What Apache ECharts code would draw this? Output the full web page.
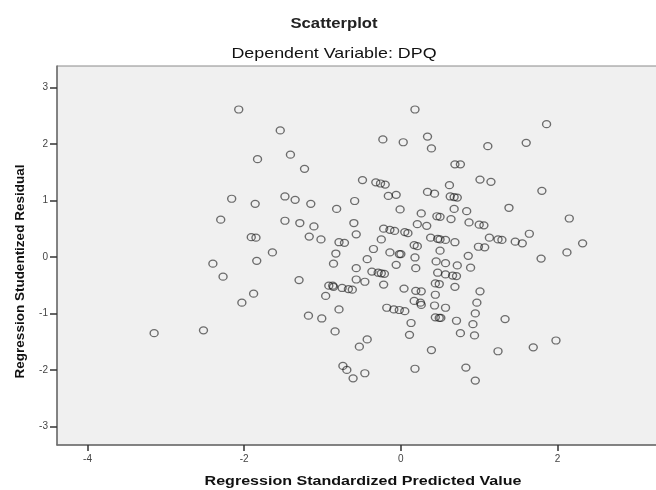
<!DOCTYPE html>
<html>
<head>
<meta charset="utf-8">
<title>Scatterplot</title>
<script src="https://cdn.jsdelivr.net/npm/echarts@6/dist/echarts.min.js"></script>
<style>
  html, body { margin: 0; padding: 0; background: #fff; }
  #chart { width: 656px; height: 490px; }
</style>
</head>
<body>
<div id="chart"></div>
<script>
// x: Regression Standardized Predicted Value
const predicted = [
  -2.07, -1.54, -1.83, -1.41, -1.23, -2.16, -1.86, -1.48, -1.35, -1.15, -0.82, -0.59,
  -2.30, -1.48, -1.29, -1.11, -0.60, -0.57, -1.91, -1.85, -1.17, -1.02, -0.79, -0.72,
  0.18, 1.86, -0.23, 0.03, 0.34, 0.39, 1.11, 1.60, 0.69, 0.76, -0.49, -0.32,
  -0.26, -0.20, 1.01, 1.15, 1.80, 0.62, -0.16, -0.06, 0.34, 0.43, 0.63, 0.68,
  0.72, -0.01, 0.68, 0.84, 1.38, 0.26, 0.46, 0.50, 0.64, 0.87, 1.00, 1.06,
  2.15, 0.21, 0.33, -0.22, -0.14, -0.08, 0.05, 0.09, -0.25, 0.38, 0.47, 0.50,
  0.57, 0.69, 1.13, 1.24, 1.29, 1.46, 1.55, 1.64, 2.32, 0.17, 0.21, 0.99, 1.07,
  -0.35, -0.14, -0.02, 0.00, 0.18, 0.50, 0.86, 2.12, 1.79, -0.43, -0.06, 0.19,
  0.45, 0.57, 0.72, 0.89, -0.57, -0.37, -0.29, -0.25, -0.21, 0.47, 0.57, 0.66,
  0.71, -0.57, -0.46, -0.22, -0.75, -0.67, -0.62, 0.04, 0.19, 0.26, 0.44, 0.49,
  0.69, 1.01, 0.44, 0.97, 0.17, 0.25, 0.26, 0.43, 0.57, -0.18, -0.09, -0.02,
  0.05, -0.79, 0.95, 0.13, 0.44, 0.49, 0.51, 0.71, 0.92, 1.33, 0.11, 0.76,
  0.94, -0.43, -0.53, 0.39, 1.24, 1.69, 1.98, -0.74, -0.69, -0.61, -0.46, 0.18,
  0.83, 0.95,
  -1.64, -0.83, -2.40, -1.84, -0.86, -2.27, -1.30, -0.92, -0.87, -0.86, -1.88, -2.03,
  -0.96, -1.18, -1.01, -0.84, -2.52, -3.15
]

// y: Regression Studentized Residual
const residuals = [
  2.61, 2.24, 1.73, 1.81, 1.56, 1.03, 0.94, 1.07, 1.01, 0.94, 0.85, 0.99,
  0.66, 0.64, 0.60, 0.54, 0.60, 0.40, 0.35, 0.34, 0.36, 0.31, 0.26, 0.25,
  2.61, 2.35, 2.08, 2.03, 2.13, 1.92, 1.96, 2.02, 1.64, 1.64, 1.36, 1.32,
  1.30, 1.28, 1.37, 1.33, 1.17, 1.27, 1.08, 1.10, 1.15, 1.12, 1.07, 1.06,
  1.05, 0.84, 0.85, 0.81, 0.87, 0.77, 0.72, 0.71, 0.67, 0.61, 0.57, 0.56,
  0.68, 0.58, 0.55, 0.50, 0.48, 0.46, 0.44, 0.42, 0.31, 0.34, 0.32, 0.31,
  0.30, 0.26, 0.34, 0.31, 0.30, 0.27, 0.24, 0.41, 0.24, 0.21, 0.19, 0.18, 0.17,
  0.14, 0.08, 0.05, 0.05, -0.01, 0.11, 0.02, 0.08, -0.03, -0.04, -0.14, -0.20,
  -0.08, -0.11, -0.15, -0.19, -0.20, -0.26, -0.28, -0.29, -0.30, -0.28, -0.31, -0.33,
  -0.34, -0.40, -0.44, -0.49, -0.55, -0.57, -0.58, -0.56, -0.60, -0.61, -0.47, -0.48,
  -0.53, -0.61, -0.67, -0.81, -0.78, -0.81, -0.85, -0.86, -0.90, -0.90, -0.93, -0.94,
  -0.96, -0.93, -1.00, -1.17, -1.07, -1.08, -1.08, -1.13, -1.19, -1.10, -1.38, -1.35,
  -1.39, -1.46, -1.59, -1.65, -1.67, -1.60, -1.48, -1.93, -2.00, -2.15, -2.06, -1.98,
  -1.96, -2.19,
  0.08, 0.06, -0.12, -0.07, -0.12, -0.35, -0.41, -0.51, -0.51, -0.53, -0.65, -0.81,
  -0.69, -1.04, -1.09, -1.32, -1.30, -1.35
]

const xTicks = [-4, -2, 0, 2]
const yTicks = [-3, -2, -1, 0, 1, 2, 3]

const chart = echarts.init(document.getElementById('chart'), null, { renderer: 'canvas' })

const points = predicted.map((x, i) => [x, residuals[i]])

const font = '"Liberation Sans", Arial, sans-serif'
// the source picture is a bit stretched sideways, so horizontal text gets scaleX
const stretch = 1.19

const textItem = (text, x, y, css, fill) => ({
  type: 'text',
  x,
  y,
  scaleX: stretch,
  style: {
    text,
    font: css + ' ' + font,
    fill,
    textAlign: 'center',
    textVerticalAlign: 'middle'
  }
})

const option = {
  animation: false,
  backgroundColor: '#ffffff',
  graphic: [
    textItem('Scatterplot', 334, 24, 'bold 14px', '#222'),
    textItem('Dependent Variable: DPQ', 334, 54, '15px', '#111'),
    textItem('Regression Standardized Predicted Value', 363, 481, 'bold 13.5px', '#111')
  ],
  // plot box runs past the right edge, like the cropped SPSS output
  grid: {
    left: 57,
    top: 66,
    width: 629,
    height: 379,
    outerBoundsMode: 'none',
    containLabel: false,
    show: true,
    backgroundColor: '#f0f0f0',
    borderColor: '#8a8a8a',
    borderWidth: 1
  },
  xAxis: {
    type: 'value',
    min: -4.39,
    max: 3.64,
    axisLine: { show: true, onZero: false, lineStyle: { color: '#6e6e6e', width: 1.5 } },
    axisTick: { show: true, customValues: xTicks, length: 6, lineStyle: { color: '#333', width: 1.5 } },
    axisLabel: { customValues: xTicks, margin: 9, fontFamily: font, fontSize: 10, color: '#444' },
    splitLine: { show: false }
  },
  yAxis: {
    type: 'value',
    min: -3.33,
    max: 3.38,
    name: 'Regression Studentized Residual',
    nameLocation: 'middle',
    nameGap: 30,
    nameTextStyle: {
      fontFamily: font,
      fontWeight: 'bold',
      fontSize: 13.5,
      color: '#111',
      padding: [0, 32, 0, 0]
    },
    axisLine: { show: true, onZero: false, lineStyle: { color: '#6e6e6e', width: 1.5 } },
    axisTick: { show: true, customValues: yTicks, length: 7, lineStyle: { color: '#333', width: 1.5 } },
    axisLabel: { customValues: yTicks, margin: 9, fontFamily: font, fontSize: 10, color: '#444' },
    splitLine: { show: false }
  },
  series: [
    {
      type: 'scatter',
      data: points,
      symbol: 'circle',
      symbolSize: [8, 7],
      itemStyle: {
        color: 'transparent',
        borderColor: 'rgba(20, 20, 20, 0.75)',
        borderWidth: 1.3
      },
      emphasis: { disabled: true }
    }
  ]
}

chart.setOption(option)
</script>
</body>
</html>
